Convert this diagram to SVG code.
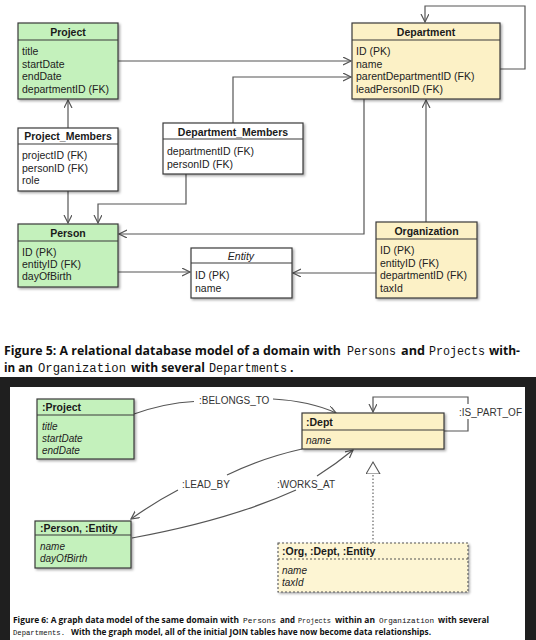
<svg xmlns="http://www.w3.org/2000/svg" width="536" height="640" viewBox="0 0 536 640">
<style>
.bx{stroke:#3a3a3a;stroke-width:1.2}
.g{fill:#c4f1bc}
.y{fill:#fcf1c6}
.w{fill:#ffffff}
.dv{stroke:#3a3a3a;stroke-width:1.1}
.h{font-family:"Liberation Sans",Arial,sans-serif;font-size:10.5px;font-weight:bold;fill:#1a1a1a}
.t{font-family:"Liberation Sans",Arial,sans-serif;font-size:10.5px;fill:#222}
.i{font-family:"Liberation Sans",Arial,sans-serif;font-size:10px;font-style:italic;fill:#222}
.lb{font-family:"Liberation Sans",Arial,sans-serif;font-size:10px;fill:#333}
.c{fill:none;stroke:#555;stroke-width:1.2}
.cap{font-family:"Open Sans","DejaVu Sans",sans-serif;font-weight:bold;fill:#111}
.m{font-family:"Liberation Mono","Courier New",monospace;font-weight:normal;fill:#111}
.c5{font-size:12.3px}
.m5{font-size:12px}
.c6{font-size:8.3px}
.m6{font-size:7.4px}
</style>
<defs>
<filter id="sh" x="-10%" y="-10%" width="130%" height="130%">
<feDropShadow dx="1.5" dy="1.5" stdDeviation="1.2" flood-color="#000" flood-opacity="0.35"/>
</filter>
<marker id="ar" markerUnits="userSpaceOnUse" markerWidth="12" markerHeight="12" refX="8" refY="4" orient="auto">
<path d="M0,0 L8,4 L0,8" fill="none" stroke="#555" stroke-width="1.2"/>
</marker>
<marker id="tri" markerUnits="userSpaceOnUse" markerWidth="16" markerHeight="16" refX="12" refY="7" orient="auto">
<path d="M0,0 L12,7 L0,14 Z" fill="#fff" stroke="#555" stroke-width="1.1"/>
</marker>
</defs>
<rect x="0" y="0" width="536" height="640" fill="#fff"/>

<g id="connectors-fig5">
<path class="c" d="M118,61 H351" marker-end="url(#ar)"/>
<path class="c" d="M233,123 V77 H351" marker-end="url(#ar)"/>
<path class="c" d="M500,69 H525 V6 H425 V22" marker-end="url(#ar)"/>
<path class="c" d="M364,99 V234 H119" marker-end="url(#ar)"/>
<path class="c" d="M426,222 V100" marker-end="url(#ar)"/>
<path class="c" d="M68,128 V100" marker-end="url(#ar)"/>
<path class="c" d="M68,191 V223" marker-end="url(#ar)"/>
<path class="c" d="M186,174 V204 H98 V223" marker-end="url(#ar)"/>
<path class="c" d="M118,272 H190" marker-end="url(#ar)"/>
<path class="c" d="M376,273 H293" marker-end="url(#ar)"/>
</g>

<g id="project">
<rect class="bx g" x="18" y="23" width="100" height="76" filter="url(#sh)"/>
<line class="dv" x1="18" y1="40" x2="118" y2="40"/>
<text class="h" x="68" y="36" text-anchor="middle">Project</text>
<text class="t" x="22" y="55">title</text>
<text class="t" x="22" y="67.5">startDate</text>
<text class="t" x="22" y="80">endDate</text>
<text class="t" x="22" y="92.5">departmentID (FK)</text>
</g>

<g id="department">
<rect class="bx y" x="352" y="23" width="148" height="76" filter="url(#sh)"/>
<line class="dv" x1="352" y1="40" x2="500" y2="40"/>
<text class="h" x="426" y="36" text-anchor="middle">Department</text>
<text class="t" x="356" y="55">ID (PK)</text>
<text class="t" x="356" y="67.5">name</text>
<text class="t" x="356" y="80">parentDepartmentID (FK)</text>
<text class="t" x="356" y="92.5">leadPersonID (FK)</text>
</g>

<g id="project-members">
<rect class="bx w" x="18" y="128" width="100" height="63" filter="url(#sh)"/>
<line class="dv" x1="18" y1="144" x2="118" y2="144"/>
<text class="h" x="68" y="140" text-anchor="middle">Project_Members</text>
<text class="t" x="22" y="159">projectID (FK)</text>
<text class="t" x="22" y="171.5">personID (FK)</text>
<text class="t" x="22" y="184">role</text>
</g>

<g id="department-members">
<rect class="bx w" x="163" y="123" width="140" height="51" filter="url(#sh)"/>
<line class="dv" x1="163" y1="139" x2="303" y2="139"/>
<text class="h" x="233" y="135.5" text-anchor="middle">Department_Members</text>
<text class="t" x="167" y="155">departmentID (FK)</text>
<text class="t" x="167" y="167.5">personID (FK)</text>
</g>

<g id="person">
<rect class="bx g" x="18" y="224" width="100" height="63" filter="url(#sh)"/>
<line class="dv" x1="18" y1="241" x2="118" y2="241"/>
<text class="h" x="68" y="236.5" text-anchor="middle">Person</text>
<text class="t" x="22" y="256">ID (PK)</text>
<text class="t" x="22" y="268">entityID (FK)</text>
<text class="t" x="22" y="280">dayOfBirth</text>
</g>

<g id="entity">
<rect class="bx w" x="191" y="248" width="101" height="50" filter="url(#sh)"/>
<line class="dv" x1="191" y1="263" x2="292" y2="263"/>
<text class="t" x="241" y="259.5" text-anchor="middle" font-style="italic">Entity</text>
<text class="t" x="195" y="279">ID (PK)</text>
<text class="t" x="195" y="292">name</text>
</g>

<g id="organization">
<rect class="bx y" x="376" y="222" width="101" height="76" filter="url(#sh)"/>
<line class="dv" x1="376" y1="239" x2="477" y2="239"/>
<text class="h" x="426.5" y="235" text-anchor="middle">Organization</text>
<text class="t" x="380" y="254">ID (PK)</text>
<text class="t" x="380" y="266.5">entityID (FK)</text>
<text class="t" x="380" y="279">departmentID (FK)</text>
<text class="t" x="380" y="291.5">taxId</text>
</g>

<g id="caption-fig5">
<text class="cap c5" x="4" y="355" textLength="337" lengthAdjust="spacingAndGlyphs">Figure 5: A relational database model of a domain with</text>
<text class="m m5" x="347" y="355" textLength="49" lengthAdjust="spacingAndGlyphs">Persons</text>
<text class="cap c5" x="401" y="355" textLength="24" lengthAdjust="spacingAndGlyphs">and</text>
<text class="m m5" x="429" y="355" textLength="56" lengthAdjust="spacingAndGlyphs">Projects</text>
<text class="cap c5" x="489" y="355" textLength="31" lengthAdjust="spacingAndGlyphs">with-</text>
<text class="cap c5" x="4" y="372" textLength="29" lengthAdjust="spacingAndGlyphs">in an</text>
<text class="m m5" x="38" y="372" textLength="88" lengthAdjust="spacingAndGlyphs">Organization</text>
<text class="cap c5" x="131" y="372" textLength="74" lengthAdjust="spacingAndGlyphs">with several</text>
<text class="m m5" x="209" y="372" textLength="78" lengthAdjust="spacingAndGlyphs">Departments</text>
<text class="cap c5" x="290" y="372">.</text>
</g>

<rect x="0" y="377" width="536" height="263" fill="#1f1f1f"/>
<rect x="10" y="387" width="515" height="253" fill="#fff"/>

<g id="connectors-fig6">
<path class="c" d="M134,414 Q165,403 194,401.5"/>
<path class="c" d="M273,399 Q310,401 336,413" marker-end="url(#ar)"/>
<path class="c" d="M444,431 H468 V397 H373 V412" marker-end="url(#ar)"/>
<path class="c" d="M302,449 Q262,458 227,475"/>
<path class="c" d="M178,490 Q155,502 131,519" marker-end="url(#ar)"/>
<path class="c" d="M132,538 Q230,520 296,490"/>
<path class="c" d="M317,476 Q336,464 353,450" marker-end="url(#ar)"/>
<path d="M373,543 V462" fill="none" stroke="#666" stroke-width="1.2" stroke-dasharray="1.5 2" marker-end="url(#tri)"/>
<text class="lb" x="199" y="404">:BELONGS_TO</text>
<rect x="457" y="404" width="65" height="15" fill="#fff"/>
<text class="lb" x="459" y="416">:IS_PART_OF</text>
<text class="lb" x="182" y="488">:LEAD_BY</text>
<text class="lb" x="277" y="488">:WORKS_AT</text>
</g>

<g id="g-project">
<rect class="bx g" x="37" y="399" width="97" height="60" filter="url(#sh)"/>
<line class="dv" x1="37" y1="415" x2="134" y2="415"/>
<text class="h" x="42" y="411">:Project</text>
<text class="i" x="42" y="430">title</text>
<text class="i" x="42" y="442">startDate</text>
<text class="i" x="42" y="454">endDate</text>
</g>

<g id="g-dept">
<rect class="bx y" x="302" y="413" width="142" height="36" filter="url(#sh)"/>
<line class="dv" x1="302" y1="430" x2="444" y2="430"/>
<text class="h" x="306" y="425.5">:Dept</text>
<text class="i" x="306" y="444">name</text>
</g>

<g id="g-person">
<rect class="bx g" x="35" y="521" width="96" height="47" filter="url(#sh)"/>
<line class="dv" x1="35" y1="535" x2="131" y2="535"/>
<text class="h" x="40" y="532">:Person, :Entity</text>
<text class="i" x="40" y="550">name</text>
<text class="i" x="40" y="562">dayOfBirth</text>
</g>

<g id="g-org">
<rect x="278" y="543" width="190" height="49" fill="#fdf5d3" stroke="#555" stroke-width="1.1" stroke-dasharray="2 2" filter="url(#sh)"/>
<line x1="278" y1="559" x2="468" y2="559" stroke="#555" stroke-width="1.1" stroke-dasharray="2 2"/>
<text class="h" x="282" y="555">:Org, :Dept, :Entity</text>
<text class="i" x="282" y="574">name</text>
<text class="i" x="282" y="586">taxId</text>
</g>

<g id="caption-fig6">
<text class="cap c6" x="13" y="623" textLength="226" lengthAdjust="spacingAndGlyphs">Figure 6: A graph data model of the same domain with</text>
<text class="m m6" x="243" y="623" textLength="33" lengthAdjust="spacingAndGlyphs">Persons</text>
<text class="cap c6" x="280" y="623" textLength="15" lengthAdjust="spacingAndGlyphs">and</text>
<text class="m m6" x="298" y="623" textLength="33" lengthAdjust="spacingAndGlyphs">Projects</text>
<text class="cap c6" x="335" y="623" textLength="40" lengthAdjust="spacingAndGlyphs">within an</text>
<text class="m m6" x="379" y="623" textLength="55" lengthAdjust="spacingAndGlyphs">Organization</text>
<text class="cap c6" x="438" y="623" textLength="51" lengthAdjust="spacingAndGlyphs">with several</text>
<text class="m m6" x="13" y="635" textLength="52" lengthAdjust="spacingAndGlyphs">Departments.</text>
<text class="cap c6" x="71" y="635" textLength="360" lengthAdjust="spacingAndGlyphs">With the graph model, all of the initial JOIN tables have now become data relationships.</text>
</g>
</svg>
